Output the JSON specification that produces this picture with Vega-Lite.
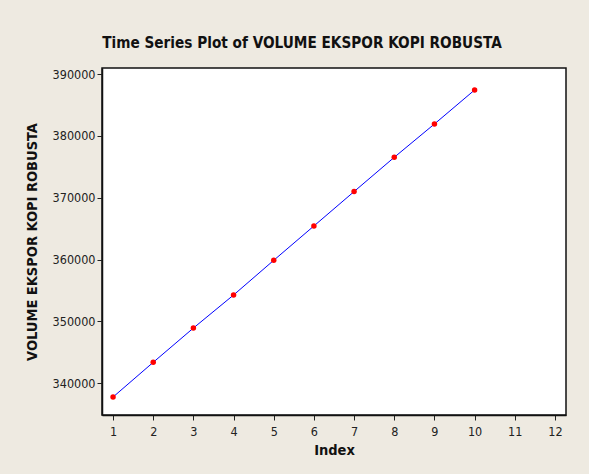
{
  "$schema": "https://vega.github.io/schema/vega-lite/v6.json",
  "autosize": {"type": "none"},
  "width": 464,
  "height": 347,
  "padding": {"left": 102, "top": 68, "right": 23, "bottom": 59},
  "background": "#EEEAE1",
  "title": {
    "text": "Time Series Plot of VOLUME EKSPOR KOPI ROBUSTA",
    "font": "DejaVu Sans Condensed, sans-serif",
    "fontSize": 15.2,
    "fontWeight": "bold",
    "color": "#111111",
    "anchor": "middle",
    "frame": "group",
    "dx": -32,
    "offset": 17
  },
  "config": {
    "view": {"fill": "white", "stroke": "#111111", "strokeWidth": 1.5},
    "axis": {
      "labelFont": "DejaVu Sans Condensed, sans-serif",
      "labelFontSize": 12.5,
      "labelColor": "#222222",
      "titleFont": "DejaVu Sans Condensed, sans-serif",
      "titleFontSize": 14.5,
      "titleFontWeight": "bold",
      "titleColor": "#111111",
      "domainColor": "#111111",
      "domainWidth": 1.5,
      "tickColor": "#222222",
      "tickSize": 5,
      "grid": false
    }
  },
  "data": {
    "values": [
      {"Index": 1, "Volume": 337730},
      {"Index": 2, "Volume": 343350},
      {"Index": 3, "Volume": 348900},
      {"Index": 4, "Volume": 354250},
      {"Index": 5, "Volume": 359870},
      {"Index": 6, "Volume": 365430},
      {"Index": 7, "Volume": 371000},
      {"Index": 8, "Volume": 376550},
      {"Index": 9, "Volume": 381940},
      {"Index": 10, "Volume": 387450}
    ]
  },
  "encoding": {
    "x": {
      "field": "Index",
      "type": "quantitative",
      "scale": {"domain": [0.725, 12.275], "nice": false, "zero": false},
      "axis": {"values": [1,2,3,4,5,6,7,8,9,10,11,12], "title": "Index", "labelPadding": 5, "titlePadding": 6}
    },
    "y": {
      "field": "Volume",
      "type": "quantitative",
      "scale": {"domain": [334820, 391010], "nice": false, "zero": false},
      "axis": {"values": [340000, 350000, 360000, 370000, 380000, 390000], "format": "d", "title": "VOLUME EKSPOR KOPI ROBUSTA", "labelPadding": 2, "titlePadding": 13}
    }
  },
  "layer": [
    {"mark": {"type": "line", "color": "#0000FF", "strokeWidth": 1}},
    {"mark": {"type": "point", "filled": true, "color": "#FF0000", "size": 30, "opacity": 1}}
  ]
}
